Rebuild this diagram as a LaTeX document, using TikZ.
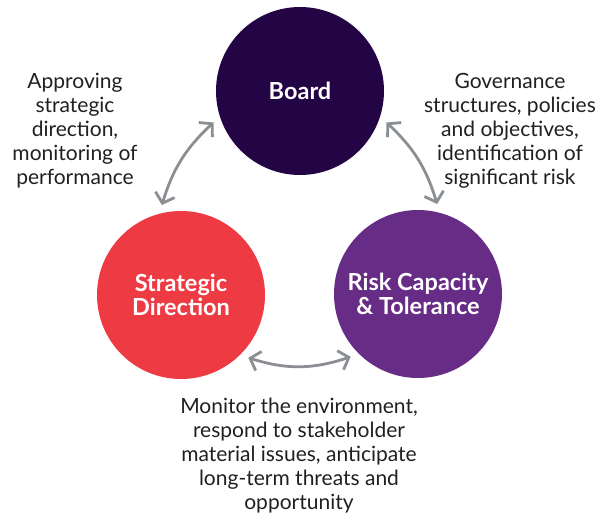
\documentclass[tikz,border=0pt]{standalone}
\usepackage{fontspec}
\setmainfont{Lato}
\usetikzlibrary{arrows.meta}

\definecolor{boardcol}{HTML}{230444}
\definecolor{stratcol}{HTML}{EE3A43}
\definecolor{riskcol}{HTML}{672C85}
\definecolor{linkgray}{HTML}{8B8E93}
\definecolor{textcol}{HTML}{231F20}

\tikzset{link/.style={<->,>={Straight Barb[length=9pt,width=20pt]},line width=2.8pt,draw=linkgray}}

\begin{document}
\begin{tikzpicture}[
	x=1pt, y=-1pt,
	disc/.style={circle,minimum size=168pt,inner sep=0pt,outer sep=8pt,text=white,align=center,
		font=\fontsize{23.5}{24}\selectfont\bfseries},
	note/.style={align=center,text=textcol,font=\fontsize{21}{24}\selectfont},
	]
	
	\useasboundingbox (0,0) rectangle (603,515);
	
	% the three circles
	\node[disc,fill=boardcol] (board) at (300,91) {Board};
	\node[disc,fill=stratcol] (strat) at (181,295) {Strategic\\Direction};
	\node[disc,fill=riskcol] (risk) at (418,294) {Risk Capacity\\\& Tolerance};
	
	% texts beside the links
	\node[note] (approve) at (75,131) {Approving\\strategic\\direction,\\monitoring of\\performance};
	\node[note] (govern) at (510,131) {Governance\\structures, policies\\and objectives,\\identification of\\significant risk};
	\node[note] (monitor) at (299,456) {Monitor the environment,\\respond to stakeholder\\material issues, anticipate\\long-term threats and\\opportunity};
	
	% links between circles
	\draw[link] (board.200) to[bend right=15] (strat.102);
	\draw[link] (board.-20) to[bend left=15] (risk.78);
	\draw[link] (strat.-43) to[bend right=18] (risk.223);

\end{tikzpicture}
\end{document}
